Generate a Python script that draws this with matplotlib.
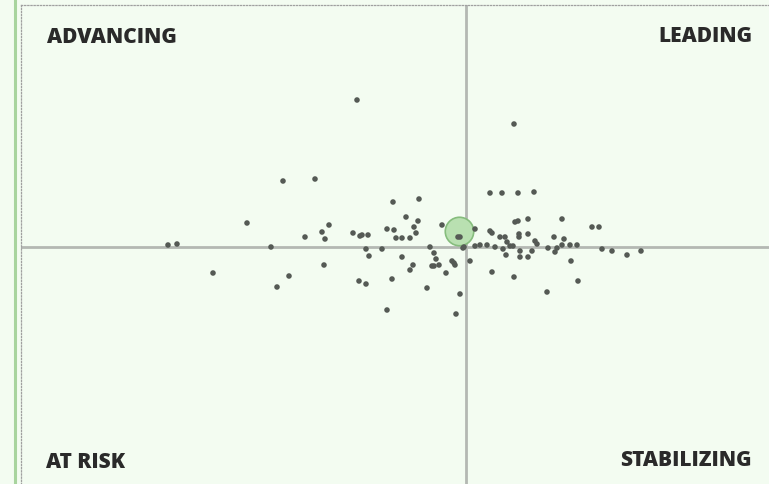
import matplotlib.pyplot as plt
from matplotlib.lines import Line2D

# relative strength (x) vs momentum (y), centred on the benchmark
strength = [-10.9, 4.8, -18.3, -15.1, 3.6, 6.8, -4.7, -7.3, -6.0, -4.8,
            -21.9, -13.7, 9.6, 13.3, -29.8, -28.9, -19.5, -25.3, -17.7, -18.9,
            -16.1, -14.1, -14.2, -7.9, -5.0, -14.4, -11.3, -10.4, -10.6, -9.8,
            -6.4, -5.6, -5.2, -7.2, -7.0, -2.4, -10.0, -8.4, -9.7, -3.6,
            -3.2, -3.0, -6.4, -3.4, -5.3, -5.6, -1.4, -1.1, -1.2, -3.2,
            -2.0, -7.4, -10.7, -10.0, -3.9, -0.6, -7.9, -1.0, -0.8, 0.9,
            -0.3, 2.4, 5.2, 6.2, 2.4, 4.9, 5.2, 6.2, 2.6, 3.4,
            3.9, 4.1, 5.3, 5.3, 6.9, 7.1, 8.8, 9.8, 12.6, 1.4,
            2.1, 2.9, 3.7, 4.4, 4.7, 4.0, 5.4, 5.4, 6.2, 6.6,
            8.2, 9.1, 8.9, 9.6, 10.4, 11.1, 13.6, 14.6, 16.1, 17.5,
            0.4, 10.5, 2.6, 4.8, 11.2, 8.1, -0.2, 0.9, -0.6, -2.7]
momentum = [14.7, 12.3, 6.6, 6.8, 5.4, 5.5, 4.8, 4.5, 3.0, 2.6,
            2.4, 2.2, 2.8, 2.0, 0.2, 0.3, 0.0, -2.6, -2.9, -4.0,
            1.0, 0.8, -1.8, 1.8, 1.4, 1.5, 1.4, 1.2, 1.1, 1.2,
            0.9, 0.9, 2.0, 1.7, 0.9, 2.2, -0.2, -0.2, -0.9, 0.0,
            -0.6, -1.2, -1.0, -1.9, -1.8, -2.3, -1.4, -1.8, -1.6, -1.9,
            -2.6, -3.2, -3.4, -3.7, -4.1, -4.7, -6.3, -6.7, 1.0, 1.8,
            -0.1, 5.4, 5.4, 2.8, 1.6, 2.5, 2.6, 1.3, 1.4, 1.0,
            1.0, 0.5, 1.3, 1.0, 0.6, 0.3, 1.0, 0.8, 2.0, 0.2,
            0.2, 0.0, -0.2, 0.1, 0.1, -0.8, -0.4, -1.0, -1.0, -0.4,
            -0.1, -0.1, -0.5, 0.2, 0.2, 0.2, -0.2, -0.4, -0.8, -0.4,
            -1.4, -1.4, -2.5, -3.0, -3.4, -4.5, 0.0, 0.1, 1.0, -1.8]
bench_x = [-0.7]
bench_y = [1.6]

labels = ["ADVANCING", "LEADING", "AT RISK", "STABILIZING"]

bg = '#f3fcf1'
fig = plt.figure(figsize=(7.69, 4.85), dpi=100, facecolor=bg)
ax = fig.add_axes([21 / 769, 0, 748 / 769, 479 / 485])
ax.set_facecolor(bg)
ax.set_xlim(-44.5, 30.3)
ax.set_ylim(-23.7, 24.2)

for side in ['right', 'bottom']:
    ax.spines[side].set_visible(False)
for side in ['left', 'top']:
    ax.spines[side].set_color('#a0a0a0')
    ax.spines[side].set_linewidth(0.9)
    ax.spines[side].set_linestyle((0, (1, 1.5)))
ax.set_xticks([])
ax.set_yticks([])

ax.axhline(0, color='#b4b8b3', lw=2.0, zorder=1)
ax.axvline(0, color='#b4b8b3', lw=2.0, zorder=1)

ax.scatter(bench_x, bench_y, s=420, color='#b9e0b1', edgecolor='#86bd7d',
           linewidth=1.2, zorder=2)
ax.scatter(strength, momentum, s=16, color='#555a55', edgecolor='none', zorder=3)

font = dict(fontsize=15, fontweight='heavy', color='#2a2a2a', family='Open Sans')
fig.text(47 / 769, 1 - 38 / 485, labels[0], ha='left', va='center', **font)
fig.text(752 / 769, 1 - 37 / 485, labels[1], ha='right', va='center', **font)
fig.text(46 / 769, 1 - 463 / 485, labels[2], ha='left', va='center', **font)
fig.text(752 / 769, 1 - 461 / 485, labels[3], ha='right', va='center', **font)

fig.add_artist(Line2D([14.5 / 769, 14.5 / 769], [0, 1], color='#a8d49e', lw=2.2,
                      transform=fig.transFigure))

fig.savefig('out.png', dpi=100, facecolor=bg)
